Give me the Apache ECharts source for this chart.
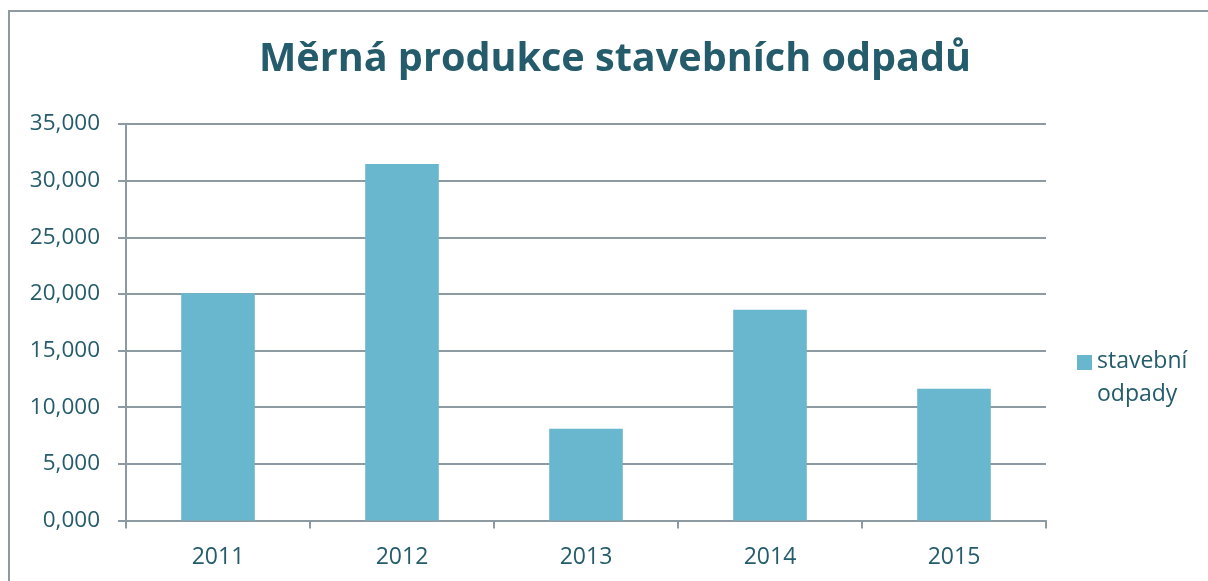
<!DOCTYPE html>
<html><head><meta charset="utf-8">
<script src="https://cdn.jsdelivr.net/npm/echarts@6/dist/echarts.min.js"></script>
<style>html,body{margin:0;padding:0;background:#fff}#c{width:1208px;height:581px}</style>
</head><body><div id="c"></div>
<script>
const categories = ['2011','2012','2013','2014','2015'];
const values = [20050, 31470, 8110, 18600, 11640];
const seriesName = 'stavební\nodpady';
const titleText = 'Měrná produkce stavebních odpadů';

const textColor = '#245C6B';
const gridColor = '#8E9AA2';
const font = 'Open Sans';
const chart = echarts.init(document.getElementById('c'));
chart.setOption({
  animation: false,
  backgroundColor: '#fff',
  graphic: [{type:'rect', shape:{x:9,y:11,width:1300,height:700}, style:{fill:'none', stroke:'#8E9AA2', lineWidth:2}, silent:true}],
  title: {text: titleText, left: 259, top: 40, padding:0, textStyle:{fontFamily: font, fontWeight:'bold', fontSize: 39.6, color: textColor}},
  grid: {left:126, right:162, top:124, bottom:60.5},
  legend: {orient:'vertical', left:1077, top:345, padding:0, itemWidth:15, itemHeight:46, itemGap:0,
    icon:'path://M0,0h15v15h-15z M0,46h0.01v0.01h-0.01z',
    textStyle:{fontFamily: font, fontSize:23, color:textColor, lineHeight:33}},
  xAxis: {type:'category', data: categories,
    axisLine:{lineStyle:{color:gridColor, width:2}},
    axisTick:{show:true, length:8, interval:0, lineStyle:{color:gridColor, width:2}},
    axisLabel:{fontFamily: font, fontSize:23, color:textColor, margin:25}},
  yAxis: {type:'value', min:0, max:35000, interval:5000,
    axisLine:{show:true, lineStyle:{color:gridColor, width:2}},
    axisTick:{show:true, length:8, lineStyle:{color:gridColor, width:2}},
    splitLine:{lineStyle:{color:gridColor, width:2}},
    axisLabel:{fontFamily: font, fontSize:22.5, color:textColor, margin:26,
      formatter: v => (v/1000).toFixed(3).replace('.', ',')}},
  series: [{type:'bar', name: seriesName, data: values, barCategoryGap:'60%',
    itemStyle:{color:'#69B7CE'}}]
});
</script></body></html>
